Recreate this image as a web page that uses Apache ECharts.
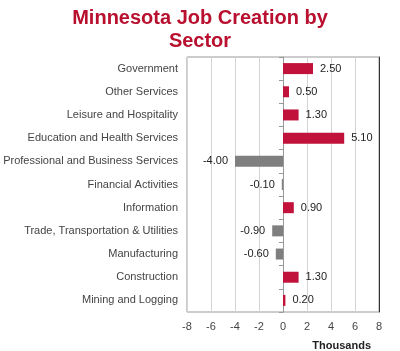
<!DOCTYPE html>
<html>
<head>
<meta charset="utf-8">
<script src="https://cdn.jsdelivr.net/npm/echarts@6/dist/echarts.min.js"></script>
<style>
    html, body { margin: 0; padding: 0; background: #fff; }
    #chart { width: 400px; height: 351px; }
</style>
</head>
<body>
<div id="chart"></div>
<script>
// 行业分类（从上到下）
var sectors = ['Government', 'Other Services', 'Leisure and Hospitality', 'Education and Health Services',
    'Professional and Business Services', 'Financial Activities', 'Information',
    'Trade, Transportation & Utilities', 'Manufacturing', 'Construction', 'Mining and Logging'];
// 新增就业（千）
var jobs = [2.5, 0.5, 1.3, 5.1, -4.0, -0.1, 0.9, -0.9, -0.6, 1.3, 0.2];
// x轴刻度
var xMin = -8, xMax = 8, xStep = 2;

var posColor = '#c0123a';
var negColor = '#7f7f7f';
var fontName = 'Liberation Sans, Arial';

var chart = echarts.init(document.getElementById('chart'));

var option = {
    animation: false,
    title: [
        {
            text: 'Minnesota Job Creation by\nSector',
            left: 'center',
            top: 2,
            textStyle: {
                color: '#b8102e',
                fontFamily: fontName,
                fontSize: 20,
                fontWeight: 'bold',
                lineHeight: 23
            }
        },
        {
            text: 'Thousands',
            right: 24,
            top: 335,
            textStyle: {
                color: '#222',
                fontFamily: fontName,
                fontSize: 11,
                fontWeight: 'bold'
            }
        }
    ],
    grid: {
        left: 187,
        right: 21,
        top: 57,
        bottom: 39,
        show: true,
        borderColor: '#999',
        borderWidth: 1
    },
    xAxis: {
        type: 'value',
        min: xMin,
        max: xMax,
        interval: xStep,
        axisLine: { show: false },
        axisTick: { show: false },
        splitLine: { lineStyle: { color: '#d4d4d4' } },
        axisLabel: {
            color: '#444',
            fontFamily: fontName,
            fontSize: 11,
            margin: 9
        }
    },
    yAxis: [
        {
            // 左侧文字标签
            type: 'category',
            data: sectors,
            inverse: true,
            axisLine: { show: false, onZero: false },
            axisTick: { show: false },
            axisLabel: {
                color: '#444',
                fontFamily: fontName,
                fontSize: 11,
                margin: 9
            }
        },
        {
            // 零点处的轴线和刻度
            type: 'category',
            data: sectors,
            inverse: true,
            position: 'left',
            axisLine: { show: true, onZero: true, lineStyle: { color: '#999' } },
            axisTick: { show: true, length: 4, lineStyle: { color: '#999' } },
            axisLabel: { show: false }
        },
        {
            // 右边框（深色）
            type: 'category',
            data: sectors,
            inverse: true,
            position: 'right',
            axisLine: { show: true, onZero: false, lineStyle: { color: '#333' } },
            axisTick: { show: false },
            axisLabel: { show: false }
        }
    ],
    series: [
        {
            type: 'bar',
            yAxisIndex: 0,
            barWidth: 11,
            itemStyle: {
                color: function (p) {
                    return p.value >= 0 ? posColor : negColor;
                }
            },
            label: {
                show: true,
                distance: 7,
                color: '#222',
                fontFamily: fontName,
                fontSize: 11,
                formatter: function (p) {
                    return p.value.toFixed(2);
                }
            },
            // 负值标签放左侧
            data: jobs.map(function (v) {
                return {
                    value: v,
                    label: { position: v >= 0 ? 'right' : 'left' }
                };
            })
        }
    ]
};

chart.setOption(option);
</script>
</body>
</html>
